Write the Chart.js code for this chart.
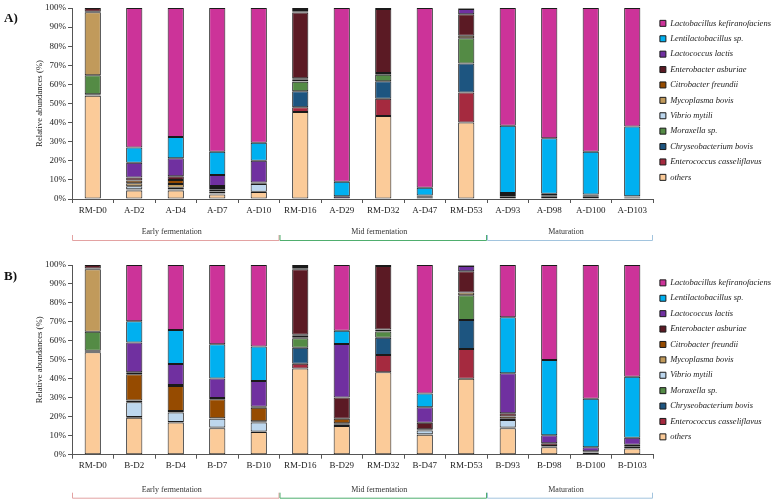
<!DOCTYPE html>
<html>
<head>
<meta charset="utf-8">
<script src="https://cdn.jsdelivr.net/npm/chart.js@4.4.1/dist/chart.umd.min.js"></script>
<style>
  body { margin: 0; background: #fff; }
  #wrap { position: relative; width: 776px; height: 502px; }
  .panel { position: absolute; left: 0; width: 776px; height: 251px; }
  .tag { position: absolute; left: 4px; font: bold 13px "Liberation Serif", serif; color: #111; }
</style>
</head>
<body>
<div id="wrap">
  <div class="panel" style="top:0"><canvas id="chartA" width="776" height="251"></canvas></div>
  <div class="panel" style="top:251px"><canvas id="chartB" width="776" height="251"></canvas></div>
  <div class="tag" style="top:10px">A)</div>
  <div class="tag" style="top:268px">B)</div>
</div>
<script>
// samples
var labelsA = ['RM-D0', 'A-D2', 'A-D4', 'A-D7', 'A-D10', 'RM-D16', 'A-D29', 'RM-D32', 'A-D47', 'RM-D53', 'A-D93', 'A-D98', 'A-D100', 'A-D103'];
var labelsB = ['RM-D0', 'B-D2', 'B-D4', 'B-D7', 'B-D10', 'RM-D16', 'B-D29', 'RM-D32', 'B-D47', 'RM-D53', 'B-D93', 'B-D98', 'B-D100', 'B-D103'];

// taxa, bottom of the stack first
var taxa = ['others', 'Enterococcus casseliflavus', 'Chryseobacterium bovis', 'Moraxella sp.', 'Vibrio mytili',
  'Mycoplasma bovis', 'Citrobacter freundii', 'Enterobacter asburiae', 'Lactococcus lactis',
  'Lentilactobacillus sp.', 'Lactobacillus kefiranofaciens'];
var colors = ['#FBCB99', '#A52A3F', '#1D5580', '#548B45', '#BDD7EE',
  '#C19A5B', '#964B00', '#5B1A24', '#7030A0', '#00B0F0', '#CC3399'];

// phases: first and last sample index
var phases = ['Early fermentation', 'Mid fermentation', 'Maturation'];
var phaseStart = [0, 5, 10];
var phaseEnd = [4, 9, 13];
var phaseColors = ['#E3A2A2', '#4FAE6E', '#A2C4DE'];

var yTicks = [0, 10, 20, 30, 40, 50, 60, 70, 80, 90, 100];

// relative abundances (%) - panel A
var othersA       = [54, 4.4, 4.5, 2.3, 3.7, 45.5, 0.2, 43.5, 0.3, 40, 1, 1, 1.2, 0.8];
var enterococcusA = [0.3, 0.3, 0.2, 0.2, 0, 2.5, 0, 9, 0, 15.7, 0, 0, 0, 0];
var chryseoA      = [0.5, 0.2, 0.2, 0.2, 0, 8.4, 0, 9.1, 0, 15.3, 0, 0, 0, 0.3];
var moraxellaA    = [10, 0.2, 0.2, 0.2, 0.1, 5, 0, 3.4, 0, 13.1, 0, 0, 0, 0];
var vibrioA       = [0, 1.6, 0.8, 1, 4, 0.3, 0, 0, 0, 0, 0, 0, 0, 0];
var mycoplasmaA   = [33, 1.5, 2, 0.9, 0.4, 1, 0, 1, 0, 1.4, 0.5, 0.5, 0.4, 0];
var citrobacterA  = [0.3, 1.5, 2, 0.9, 0.2, 0.5, 0, 0, 0.3, 0, 0, 0, 0, 0];
var enterobactA   = [1.9, 1.5, 2, 1.1, 0.3, 34.5, 0, 33.5, 0.6, 11.2, 0.6, 0.5, 0.4, 0.2];
var lactococcusA  = [0, 7.8, 9.5, 5.8, 11.3, 0.6, 1.3, 0.5, 0.6, 2.8, 1, 0.7, 0.4, 0.2];
var lentiA        = [0, 8, 11, 12.2, 9.5, 0.7, 7.5, 0, 4.1, 0.3, 35.3, 29.1, 22.4, 36.4];
var kefA          = [0, 73, 67.6, 75.2, 70.5, 1, 91, 0, 94.1, 0.2, 61.6, 68.2, 75.2, 62.1];

// relative abundances (%) - panel B
var othersB       = [54, 19.5, 17, 14, 12, 45.5, 15.1, 43.5, 10.5, 40, 13.9, 3.9, 1, 3.3];
var enterococcusB = [0.3, 0, 0, 0, 0, 2.5, 1, 9, 0, 15.7, 0, 0, 0, 0];
var chryseoB      = [0.5, 0.4, 0.2, 0.4, 0.2, 8.4, 0, 9.1, 0.3, 15.3, 0.5, 0, 0, 0];
var moraxellaB    = [10, 0, 0, 0, 0, 5, 0, 3.4, 0, 13.1, 0, 0, 0, 0];
var vibrioB       = [0, 7.7, 5.1, 4.6, 4.8, 0.3, 0, 0, 1.9, 0, 3.9, 0, 0, 0];
var mycoplasmaB   = [33, 1, 0.7, 0.2, 0.6, 1, 0.5, 1, 0.3, 1.4, 0.7, 0.4, 0.3, 0.9];
var citrobacterB  = [0.3, 13.8, 13.2, 10, 7.2, 0.5, 2.4, 0, 0.4, 0, 1.2, 0.3, 0, 0];
var enterobactB   = [1.9, 1, 0.5, 0.7, 0.5, 34.5, 11.2, 33.5, 3.5, 11.2, 1.6, 1.4, 0.5, 1.1];
var lactococcusB  = [0, 15.8, 11.1, 10.3, 13.5, 0.6, 28.1, 0.5, 8.1, 2.8, 21.1, 4.2, 2.1, 3.7];
var lentiB        = [0, 11.1, 17.9, 18, 18.3, 0.7, 7.1, 0, 7.3, 0.3, 29.5, 39.7, 25.6, 32.1];
var kefB          = [0, 29.7, 34.3, 41.8, 42.9, 1, 34.6, 0, 67.7, 0.2, 27.6, 50.1, 70.5, 58.9];

var seriesA = [othersA, enterococcusA, chryseoA, moraxellaA, vibrioA, mycoplasmaA, citrobacterA, enterobactA, lactococcusA, lentiA, kefA];
var seriesB = [othersB, enterococcusB, chryseoB, moraxellaB, vibrioB, mycoplasmaB, citrobacterB, enterobactB, lactococcusB, lentiB, kefB];

var serif = '"Liberation Serif", "Times New Roman", serif';

// phase brackets under the x axis
var phasePlugin = {
  id: 'phases',
  afterDraw: function(chart, args, opts) {
    var x = chart.scales.x;
    var ctx = chart.ctx;
    var step = (x.right - x.left) / chart.data.labels.length;
    var yLine = chart.chartArea.bottom + opts.offset;
    ctx.save();
    for (var i = 0; i < phases.length; i++) {
      var l = x.left + phaseStart[i] * step;
      var r = x.left + (phaseEnd[i] + 1) * step;
      ctx.strokeStyle = phaseColors[i];
      ctx.lineWidth = 1;
      ctx.beginPath();
      ctx.moveTo(l + 0.5, yLine - 5);
      ctx.lineTo(l + 0.5, yLine + 0.5);
      ctx.lineTo(r - 0.5, yLine + 0.5);
      ctx.lineTo(r - 0.5, yLine - 5);
      ctx.stroke();
      ctx.fillStyle = '#333';
      ctx.font = '8px ' + serif;
      ctx.textAlign = 'center';
      ctx.textBaseline = 'middle';
      ctx.fillText(phases[i], (l + r) / 2 - 4, yLine - 8);
    }
    ctx.restore();
  }
};

function makeChart(id, labels, series, top, bottom, lineOffset, legendShift) {
  var datasets = [];
  for (var i = 0; i < taxa.length; i++) {
    datasets.push({
      label: taxa[i],
      data: series[i].map(function(v) { return v || null; }),
      backgroundColor: colors[i],
      borderColor: '#1a1a1a',
      borderWidth: 1,
      borderSkipped: false,
      barPercentage: 0.39,
      categoryPercentage: 1
    });
  }

  var ctx = document.getElementById(id).getContext('2d');
  return new Chart(ctx, {
    type: 'bar',
    data: { labels: labels, datasets: datasets },
    plugins: [phasePlugin],
    options: {
      responsive: false,
      animation: false,
      layout: { padding: { top: top, left: 0, right: 0, bottom: 0 } },
      scales: {
        x: {
          stacked: true,
          grid: { display: true, drawOnChartArea: false, drawTicks: true, tickLength: 4, color: '#555' },
          border: { display: true, color: '#555' },
          ticks: { color: '#222', font: { family: serif, size: 9 }, padding: 2, maxRotation: 0, autoSkip: false },
          afterFit: function(s) { s.height = 251 - bottom; }
        },
        y: {
          stacked: true,
          min: 0,
          max: 100,
          grid: { display: true, drawOnChartArea: false, drawTicks: true, tickLength: 4, color: '#555' },
          border: { display: true, color: '#555' },
          afterBuildTicks: function(s) { s.ticks = yTicks.map(function(v) { return { value: v }; }); },
          ticks: {
            color: '#222',
            font: { family: serif, size: 9 },
            padding: 2,
            callback: function(v) { return v + '%'; }
          },
          title: {
            display: true,
            text: 'Relative abundances (%)',
            color: '#222',
            font: { family: serif, size: 8.7 },
            padding: { top: 34, bottom: 0 }
          },
          afterFit: function(s) { s.width = 72; }
        }
      },
      plugins: {
        tooltip: { enabled: false },
        phases: { offset: lineOffset },
        legend: {
          position: 'right',
          align: 'start',
          reverse: true,
          maxWidth: 123,
          title: { display: true, text: ' ', font: { size: 1 }, padding: { top: legendShift, bottom: 0 } },
          labels: {
            boxWidth: 6,
            boxHeight: 6,
            padding: 6.9,
            color: '#222',
            font: { family: serif, size: 8.5, style: 'italic' }
          }
        }
      }
    }
  });
}

var chartA = makeChart('chartA', labelsA, seriesA, 8, 199, 41, 3);
var chartB = makeChart('chartB', labelsB, seriesB, 14, 203.7, 43, 5.5);
</script>
</body>
</html>
